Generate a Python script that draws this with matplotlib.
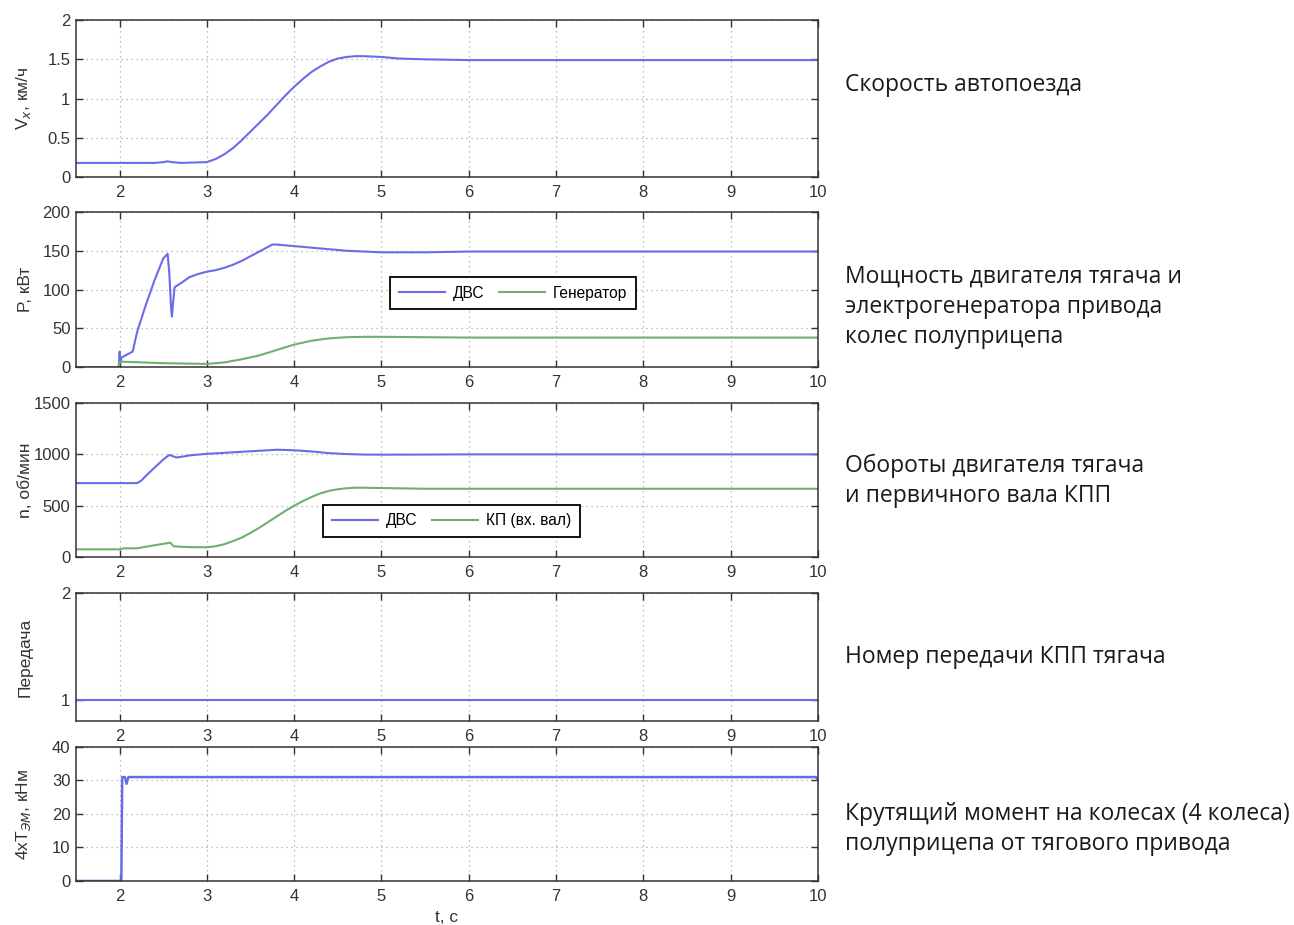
import numpy as np
import matplotlib
matplotlib.use("Agg")
import matplotlib.pyplot as plt

plt.rcParams['font.family'] = ['Liberation Sans', 'DejaVu Sans']

# speed of the road train
t_v = [1.5, 2.4, 2.5, 2.55, 2.6, 2.7, 3.0, 3.1, 3.2, 3.3, 3.4, 3.5, 3.6, 3.7, 3.8, 3.9,
       4.0, 4.1, 4.2, 4.3, 4.4, 4.5, 4.6, 4.7, 4.8, 5.0, 5.2, 5.5, 6.0, 10.0]
v_x = [0.18, 0.18, 0.19, 0.20, 0.19, 0.18, 0.19, 0.23, 0.29, 0.37, 0.47, 0.58, 0.69, 0.80,
       0.92, 1.04, 1.15, 1.25, 1.34, 1.41, 1.47, 1.51, 1.53, 1.54, 1.54, 1.53, 1.51, 1.50,
       1.49, 1.49]

# engine and generator power
t_p = [1.5, 1.99, 2.0, 2.01, 2.02, 2.05, 2.1, 2.15, 2.2, 2.3, 2.4, 2.5, 2.55, 2.57, 2.59,
       2.6, 2.61, 2.63, 2.7, 2.8, 2.9, 3.0, 3.1, 3.2, 3.3, 3.4, 3.5, 3.6, 3.7, 3.75, 3.8,
       3.9, 4.0, 4.2, 4.4, 4.6, 4.8, 5.0, 5.5, 6.0, 10.0]
p_ice = [0, 0, 20, 5, 12, 14, 17, 20, 45, 80, 112, 140, 146, 120, 75, 65, 80, 103, 108,
         116, 120, 123, 125, 128, 132, 137, 143, 149, 155, 158, 158, 157, 156, 154, 152,
         150, 149, 148, 148, 149, 149]
t_g = [1.5, 1.99, 2.0, 2.5, 3.0, 3.2, 3.4, 3.6, 3.8, 4.0, 4.2, 4.4, 4.6, 4.8, 5.0, 5.5,
       6.0, 10.0]
p_gen = [0, 0, 7, 5, 4, 6, 10, 15, 22, 29, 34, 37, 38.5, 39, 39, 38.5, 38, 38]

# engine speed and gearbox input shaft speed
t_n = [1.5, 2.2, 2.25, 2.3, 2.4, 2.5, 2.57, 2.6, 2.65, 2.7, 2.8, 3.0, 3.2, 3.4, 3.6,
       3.8, 4.0, 4.2, 4.4, 4.6, 4.8, 5.0, 5.5, 6.0, 10.0]
n_ice = [720, 720, 745, 790, 870, 950, 995, 985, 970, 975, 990, 1005, 1015, 1025, 1035,
         1045, 1040, 1028, 1012, 1003, 998, 997, 998, 1000, 1000]
t_k = [1.5, 2.0, 2.05, 2.2, 2.3, 2.4, 2.5, 2.58, 2.62, 2.7, 2.8, 3.0, 3.1, 3.2, 3.3, 3.4,
       3.5, 3.6, 3.7, 3.8, 3.9, 4.0, 4.1, 4.2, 4.3, 4.4, 4.5, 4.6, 4.7, 4.8, 5.0, 5.5,
       6.0, 10.0]
n_gb = [75, 75, 85, 85, 100, 115, 128, 140, 105, 100, 97, 95, 105, 125, 155, 190, 235,
        285, 340, 395, 450, 500, 545, 585, 620, 645, 660, 670, 675, 675, 672, 665, 665,
        665]

# gear number
t_gear = [1.5, 10.0]
gear = [1, 1]

# wheel torque of the semitrailer (4 wheels)
t_m = [1.5, 2.02, 2.03, 2.06, 2.08, 2.1, 9.98, 10.0]
torque = [0, 0, 31, 31, 29, 31, 31, 30]

blue = '#6b6bea'
green = '#6fb06f'
grey = '#333333'

fig = plt.figure(figsize=(12.94, 9.25), dpi=100)

boxes = [
    [0.0587, 0.8086, 0.5734, 0.1697],
    [0.0587, 0.6032, 0.5734, 0.1676],
    [0.0587, 0.3978, 0.5734, 0.1665],
    [0.0587, 0.2205, 0.5734, 0.1384],
    [0.0587, 0.0476, 0.5734, 0.1449],
]
axes = [fig.add_axes(b) for b in boxes]

for ax in axes:
    ax.set_xlim(1.5, 10)
    ax.set_xticks(range(2, 11))
    ax.grid(True, linestyle=(0, (1, 3)), color='#aaaaaa', linewidth=0.9)
    ax.tick_params(direction='in', top=True, right=True, length=5, width=1,
                   labelsize=12, labelcolor=grey, color=grey)
    ax.tick_params(axis='x', pad=6)
    ax.tick_params(axis='y', pad=4)
    for s in ax.spines.values():
        s.set_color(grey)
        s.set_linewidth(1.1)

lab = dict(fontsize=12.5, color=grey)
legkw = dict(ncol=2, loc='center', fontsize=11.2, fancybox=False, edgecolor='black',
             framealpha=1, handlelength=3, borderpad=0.55, columnspacing=0.9,
             handletextpad=0.5)

ax = axes[0]
ax.plot(t_v, v_x, color=blue, lw=1.5)
ax.set_ylim(0, 2)
ax.set_yticks([0, 0.5, 1, 1.5, 2])
ax.set_yticklabels(['0', '0.5', '1', '1.5', '2'])
ax.set_ylabel('V$_x$, км/ч', **lab)

ax = axes[1]
ax.plot(t_p, p_ice, color=blue, lw=1.5, label='ДВС')
ax.plot(t_g, p_gen, color=green, lw=1.5, label='Генератор')
ax.set_ylim(0, 200)
ax.set_yticks([0, 50, 100, 150, 200])
ax.set_ylabel('P, кВт', **lab)
leg = ax.legend(bbox_to_anchor=(0.589, 0.477), **legkw)
leg.get_frame().set_linewidth(1.3)

ax = axes[2]
ax.plot(t_n, n_ice, color=blue, lw=1.5, label='ДВС')
ax.plot(t_k, n_gb, color=green, lw=1.5, label='КП (вх. вал)')
ax.set_ylim(0, 1500)
ax.set_yticks([0, 500, 1000, 1500])
ax.set_ylabel('n, об/мин', **lab)
leg = ax.legend(bbox_to_anchor=(0.506, 0.234), **legkw)
leg.get_frame().set_linewidth(1.3)

ax = axes[3]
ax.plot(t_gear, gear, color=blue, lw=1.5)
ax.set_ylim(0.8, 2)
ax.set_yticks([1, 2])
ax.set_ylabel('Передача', **lab)

ax = axes[4]
ax.plot(t_m, torque, color=blue, lw=1.8)
ax.set_ylim(0, 40)
ax.set_yticks([0, 10, 20, 30, 40])
ax.set_ylabel('4xT$_{ЭМ}$, кНм', **lab)
ax.set_xlabel('t, c', **lab)

for ax in axes:
    ax.yaxis.set_label_coords(-0.058, 0.5)

# captions to the right of the panels
side = dict(fontsize=16.5, color='#1a1a1a', family=['Open Sans', 'DejaVu Sans'],
            va='center', ha='left')
fig.text(845 / 1294, 1 - 85 / 925, 'Скорость автопоезда', **side)
fig.text(845 / 1294, 1 - 307 / 925,
         'Мощность двигателя тягача и\nэлектрогенератора привода\nколес полуприцепа',
         linespacing=1.35, **side)
fig.text(845 / 1294, 1 - 481 / 925, 'Обороты двигателя тягача\nи первичного вала КПП',
         linespacing=1.35, **side)
fig.text(845 / 1294, 1 - 657 / 925, 'Номер передачи КПП тягача', **side)
fig.text(845 / 1294, 1 - 829 / 925,
         'Крутящий момент на колесах (4 колеса)\nполуприцепа от тягового привода',
         linespacing=1.35, **side)

fig.savefig('out.png', dpi=100)
